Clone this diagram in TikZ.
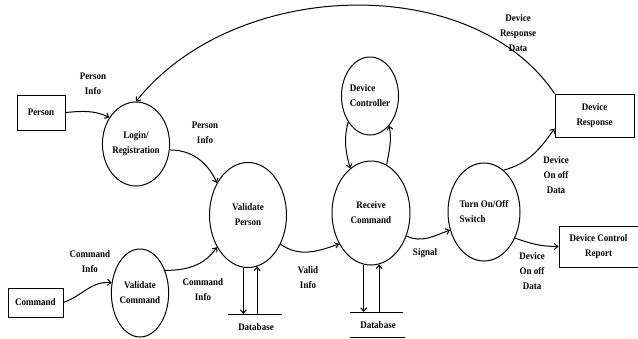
\documentclass[tikz,border=0pt]{standalone}
\usepackage{fontspec}
\setmainfont[FakeStretch=0.9]{Liberation Serif}
\usetikzlibrary{shapes.geometric,arrows.meta}
\begin{document}
\begin{tikzpicture}[x=1pt,y=-1pt,
  font=\fontsize{10}{15}\selectfont\bfseries,
  flow/.style={line width=1pt,-{Straight Barb[length=3.5pt,width=6pt]}},
  plain/.style={line width=1pt},
  proc/.style={ellipse,draw,line width=1pt,inner sep=0pt,align=center},
  entity/.style={rectangle,draw,line width=1pt,inner sep=0pt,align=center},
  lbl/.style={align=center,inner sep=0pt}]
\useasboundingbox (0,0) rectangle (638,338);

% external entities
\node[entity,minimum width=48pt,minimum height=35pt] (person) at (41,112.5) {Person};
\node[entity,minimum width=55pt,minimum height=29pt] (cmd) at (35.5,302.5) {Command};
\node[entity,minimum width=79pt,minimum height=43pt] (dr) at (594.5,115.5) {Device\\Response};
\node[entity,minimum width=79pt,minimum height=41pt] (dcr) at (598.5,246.5) {Device Control\\Report};

% processes
\node[proc,minimum width=58pt,minimum height=84pt] (login) at (136,144) {Login/\\Registration};
\node[proc,minimum width=55pt,minimum height=88pt] (vc) at (140,293) {Validate\\Command};
\node[proc,minimum width=77pt,minimum height=105pt] (vp) at (248,215) {Validate\\Person};
\node[proc,minimum width=78pt,minimum height=104pt] (rc) at (371,213) {Receive\\Command};
\node[proc,minimum width=51pt,minimum height=78pt,align=left] (dc) at (370,96) {Device\\Controller};
\node[proc,minimum width=72pt,minimum height=98pt,align=left] (turn) at (484,212) {Turn On/Off\\Switch};

% data stores
\coordinate (db1) at (255,314);
\coordinate (db2) at (376,312);
\draw[plain] (228,314) -- (282,314);
\node[lbl] (db1label) at (256,327) {Database};
\draw[plain] (350,312) -- (403,312);
\draw[plain] (350,337) -- (405,337);
\node[lbl] (db2label) at (378,325) {Database};

\draw[flow] (vp.265) -- (vp.265 |- db1);
\draw[flow] (vp.280 |- db1) -- (vp.280);
\draw[flow] (rc.262) -- (rc.262 |- db2);
\draw[flow] (rc.279 |- db2) -- (rc.279);

% data flows
\draw[flow] (person.east) to[out=5,in=155] (login.135);
\draw[flow] (login.-10) to[out=0,in=115] (vp.134);
\draw[flow] (cmd.east) to[out=20,in=175] (vc.160);
\draw[flow] (vc.42) to[out=0,in=235] (vp.226);
\draw[flow] (vp.-42) to[out=-35,in=200] (rc.224);
\draw[flow] (rc.-33) to[out=-25,in=200] (turn.208);
\draw[flow] (turn.65) to[out=15,in=235] ([yshift=9pt]dr.south west);
\draw[flow] (turn.-40) to[out=-20,in=180] (dcr.west);
\draw[flow] (dc.230) to[out=255,in=105] (rc.115);
\draw[flow] (rc.72) to[out=80,in=-80] (dc.-57);
\draw[flow] (dr.north west) .. controls +(-82,-122) and +(99,-124) .. (login.north);

% flow labels
\node[lbl] (l1) at (93,84) {Person\\Info};
\node[lbl] (l2) at (205,133) {Person\\Info};
\node[lbl] (l3) at (90,262) {Command\\Info};
\node[lbl] (l4) at (203,290) {Command\\Info};
\node[lbl] (l5) at (308,278) {Valid\\Info};
\node[lbl] (l6) at (425,253) {Signal};
\node[lbl] (l7) at (556,175) {Device\\On off\\Data};
\node[lbl] (l8) at (532,271) {Device\\On off\\Data};
\node[lbl] (l9) at (518,33) {Device\\Response\\Data};
\end{tikzpicture}
\end{document}
